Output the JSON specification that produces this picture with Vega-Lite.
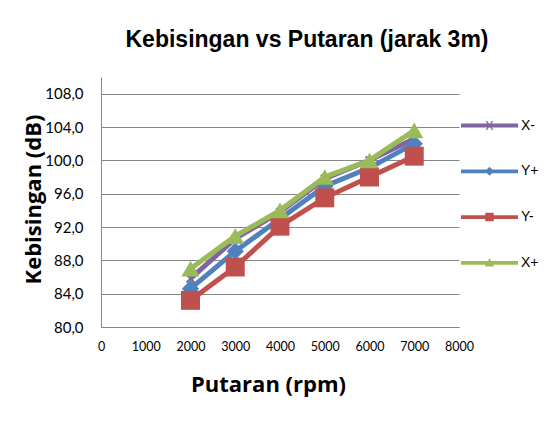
{
  "$schema": "https://vega.github.io/schema/vega-lite/v6.json",
  "autosize": {"type": "none"},
  "padding": {"left": 101, "top": 77, "right": 86, "bottom": 96},
  "width": 358,
  "height": 250,
  "background": "white",
  "config": {
    "view": {"stroke": null},
    "axis": {"labelFont": "Lato", "titleFont": "Open Sans", "labelColor": "#000", "titleColor": "#000", "domainColor": "#868686", "gridColor": "#868686", "ticks": false}
  },
  "title": {"text": "Kebisingan vs Putaran (jarak 3m)", "font": "Liberation Sans", "fontSize": 23, "fontWeight": "bold", "color": "#000", "anchor": "middle", "dx": 27, "offset": 25},
  "data": {"values": [
    {"x": 2000, "db": 85.8, "s": "X-"}, {"x": 3000, "db": 90.6, "s": "X-"}, {"x": 4000, "db": 93.8, "s": "X-"}, {"x": 5000, "db": 97.8, "s": "X-"}, {"x": 6000, "db": 100.0, "s": "X-"}, {"x": 7000, "db": 102.6, "s": "X-"},
    {"x": 2000, "db": 84.6, "s": "Y+"}, {"x": 3000, "db": 89.1, "s": "Y+"}, {"x": 4000, "db": 93.0, "s": "Y+"}, {"x": 5000, "db": 96.9, "s": "Y+"}, {"x": 6000, "db": 99.1, "s": "Y+"}, {"x": 7000, "db": 102.0, "s": "Y+"},
    {"x": 2000, "db": 83.2, "s": "Y-"}, {"x": 3000, "db": 87.2, "s": "Y-"}, {"x": 4000, "db": 92.1, "s": "Y-"}, {"x": 5000, "db": 95.5, "s": "Y-"}, {"x": 6000, "db": 98.0, "s": "Y-"}, {"x": 7000, "db": 100.5, "s": "Y-"},
    {"x": 2000, "db": 87.0, "s": "X+"}, {"x": 3000, "db": 90.9, "s": "X+"}, {"x": 4000, "db": 94.0, "s": "X+"}, {"x": 5000, "db": 98.0, "s": "X+"}, {"x": 6000, "db": 100.0, "s": "X+"}, {"x": 7000, "db": 103.6, "s": "X+"}
  ]},
  "encoding": {
    "x": {"field": "x", "type": "quantitative", "scale": {"domain": [0, 8000], "nice": false, "zero": false},
      "axis": {"values": [0, 1000, 2000, 3000, 4000, 5000, 6000, 7000, 8000], "format": "d", "grid": false, "labelFontSize": 12.5, "labelPadding": 13, "labelDx": -11, "labelFlush": false,
        "title": "Putaran (rpm)", "titleFontSize": 22, "titleFontWeight": "bold", "titleX": 167, "titleY": 57, "titleAlign": "center", "titleBaseline": "middle"}},
    "y": {"field": "db", "type": "quantitative", "scale": {"domain": [80, 110], "nice": false, "zero": false},
      "axis": {"values": [80, 84, 88, 92, 96, 100, 104, 108], "labelExpr": "replace(format(datum.value, '.1f'), '.', ',')", "grid": true, "labelFontSize": 15, "labelPadding": 18,
        "title": "Kebisingan (dB)", "titleFontSize": 22, "titleFontWeight": "bold", "titleX": -68, "titleY": 122, "titleAlign": "center", "titleBaseline": "middle", "titleAngle": -90}},
    "color": {"field": "s", "type": "nominal",
      "scale": {"domain": ["X-", "Y+", "Y-", "X+"], "range": ["#8064A2", "#4F81BD", "#C0504D", "#9BBB59"]},
      "legend": {"title": null, "orient": "none", "legendX": 377, "legendY": 37, "padding": 0, "symbolSize": 500, "rowPadding": 26.8, "labelOffset": 20, "labelFontSize": 14, "labelFont": "Liberation Sans", "labelColor": "#000",
        "encode": {"symbols": {"update": {
          "shape": {"signal": "datum.value === 'X-' ? 'M-2.55,-0.17H2.55V0.17H-2.55Z M-0.35,-0.4L-0.22,-0.4L0,-0.12L0.22,-0.4L0.35,-0.4L0.08,0L0.35,0.4L0.22,0.4L0,0.12L-0.22,0.4L-0.35,0.4L-0.08,0Z' : datum.value === 'Y+' ? 'M-2.55,-0.17H2.55V0.17H-2.55Z M0,-0.4L0.4,0L0,0.4L-0.4,0Z' : datum.value === 'Y-' ? 'M-2.55,-0.17H2.55V0.17H-2.55Z M-0.38,-0.38H0.38V0.38H-0.38Z' : 'M-2.55,-0.17H2.55V0.17H-2.55Z M0,-0.42L0.42,0.32H-0.42Z'"},
          "fill": {"signal": "scale('color', datum.value)"},
          "fillOpacity": {"value": 1},
          "opacity": {"value": 1},
          "strokeWidth": {"value": 0}
        }}}}
    }
  },
  "layer": [
    {"transform": [{"filter": "datum.s === 'X-'"}], "mark": {"type": "line", "strokeWidth": 5, "point": {"shape": "M-1,-1L1,1M-1,1L1,-1", "filled": false, "strokeWidth": 2, "size": 60, "opacity": 1}}},
    {"transform": [{"filter": "datum.s === 'Y+'"}], "mark": {"type": "line", "strokeWidth": 5, "point": {"shape": "diamond", "filled": true, "size": 300, "opacity": 1}}},
    {"transform": [{"filter": "datum.s === 'Y-'"}], "mark": {"type": "line", "strokeWidth": 5, "point": {"shape": "square", "filled": true, "size": 360, "opacity": 1}}},
    {"transform": [{"filter": "datum.s === 'X+'"}], "mark": {"type": "line", "strokeWidth": 5, "point": {"shape": "triangle-up", "filled": true, "size": 330, "opacity": 1}}}
  ]
}
